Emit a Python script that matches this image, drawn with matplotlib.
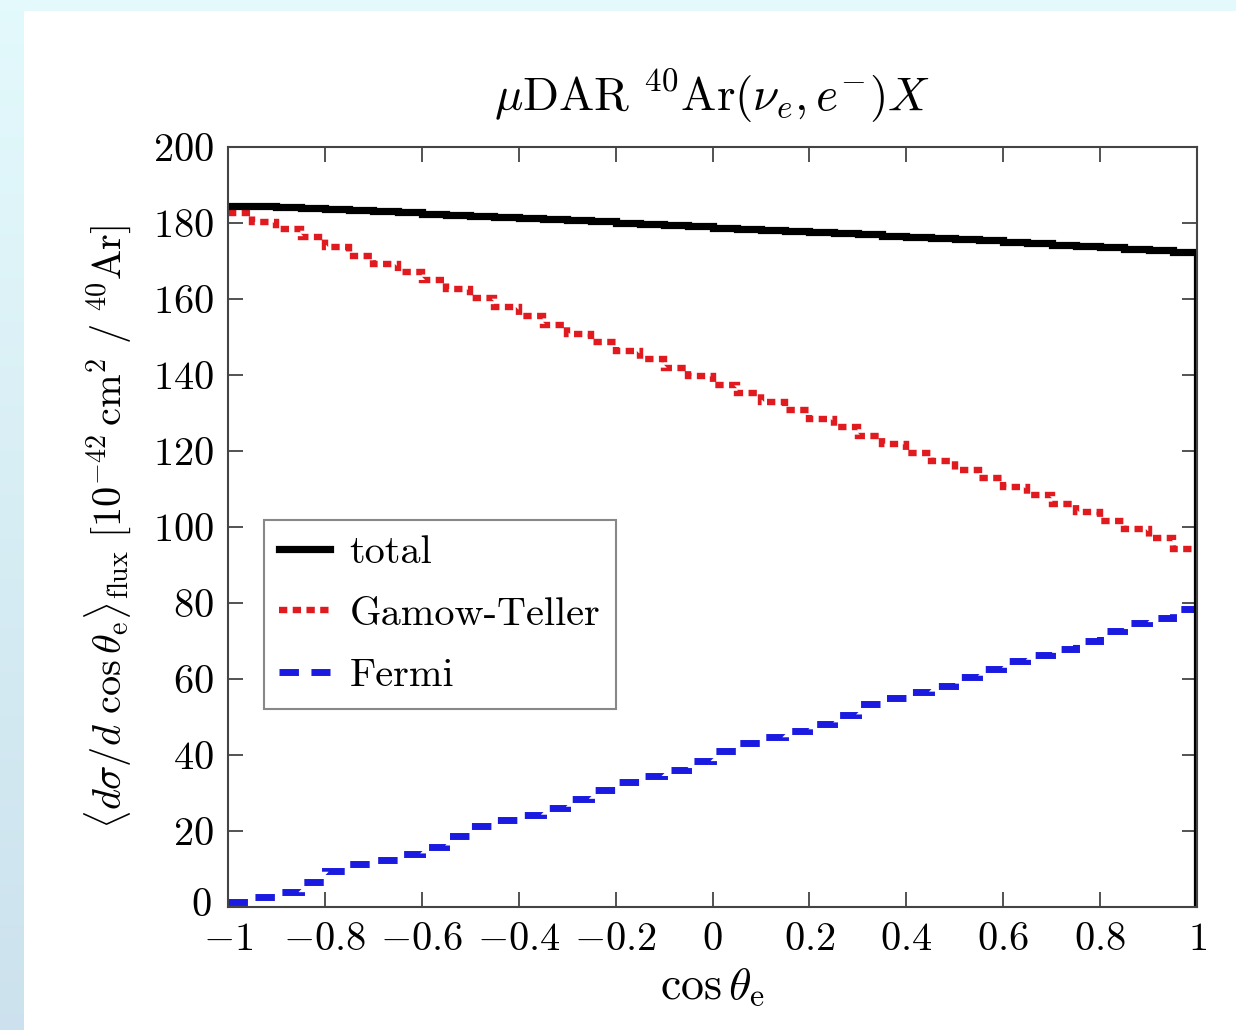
import numpy as np
import matplotlib
matplotlib.use("Agg")
import matplotlib.pyplot as plt
import matplotlib.transforms as mtransforms
from matplotlib.patches import Rectangle

plt.rcParams['font.family'] = 'serif'
plt.rcParams['font.serif'] = ['cmr10']
plt.rcParams['mathtext.fontset'] = 'cm'
plt.rcParams['axes.formatter.use_mathtext'] = True

# binned cross sections, 40 bins in cos(theta_e) from -1 to 1
bin_edges = np.linspace(-1, 1, 41)

total = [184.6, 184.5, 184.3, 184.0, 183.7, 183.4, 183.1, 182.8, 182.5, 182.2,
         181.9, 181.6, 181.3, 181.0, 180.7, 180.4, 180.1, 179.8, 179.5, 179.1,
         178.8, 178.5, 178.2, 177.9, 177.6, 177.3, 177.0, 176.7, 176.4, 176.1,
         175.7, 175.4, 175.0, 174.7, 174.3, 174.0, 173.6, 173.2, 172.8, 172.4]

gamow_teller = [182.6, 180.2, 178.3, 176.2, 173.8, 171.4, 169.2, 167.1, 165.0, 162.6,
                160.3, 158.0, 155.6, 153.2, 150.9, 148.7, 146.4, 144.2, 141.9, 139.7,
                137.4, 135.3, 133.0, 130.8, 128.5, 126.3, 124.0, 121.8, 119.6, 117.3,
                115.0, 112.9, 110.6, 108.4, 106.1, 103.9, 101.7, 99.4, 97.0, 94.3]

fermi = [1.2, 2.6, 3.9, 6.5, 9.5, 11.2, 12.5, 14.0, 15.8, 18.8,
         21.2, 22.8, 24.3, 26.0, 28.3, 30.8, 32.9, 34.4, 36.0, 38.5,
         41.0, 43.2, 44.7, 46.2, 48.2, 50.6, 53.3, 55.0, 56.7, 58.2,
         60.4, 62.6, 64.8, 66.3, 68.0, 70.0, 72.6, 74.7, 76.0, 78.3]

xticks = [-1, -0.8, -0.6, -0.4, -0.2, 0, 0.2, 0.4, 0.6, 0.8, 1]
xtick_labels = [r'$-1$', r'$-0.8$', r'$-0.6$', r'$-0.4$', r'$-0.2$', r'$0$',
                r'$0.2$', r'$0.4$', r'$0.6$', r'$0.8$', r'$1$']
yticks = [0, 20, 40, 60, 80, 100, 120, 140, 160, 180, 200]
ytick_labels = [r'$%d$' % v for v in yticks]

W, H = 1236, 1030
fig = plt.figure(figsize=(W / 100, H / 100), dpi=100)
fig.patch.set_facecolor('#e3f9fb')

# slide background: cyan strip on top, gradient on the left, white panel
bg = fig.add_axes([0, 0, 1, 1], zorder=-10)
bg.set_xlim(0, W)
bg.set_ylim(0, H)
bg.axis('off')
grad = np.linspace(0, 1, 256).reshape(-1, 1)
top_c = np.array([0.89, 0.978, 0.988])
bot_c = np.array([0.80, 0.885, 0.93])
img = top_c * (1 - grad[..., None]) + bot_c * grad[..., None]
img = img.reshape(256, 1, 3)
bg.imshow(img, extent=[0, 24, 0, H], aspect='auto', origin='upper')
bg.add_patch(Rectangle((0, H - 11), W, 11, color='#e3f9fb', lw=0))
bg.add_patch(Rectangle((24, 0), W - 24, H - 11, color='white', lw=0))

ax = fig.add_axes([228 / W, 1 - 907 / H, (1197 - 228) / W, (907 - 147) / H])
ax.set_facecolor('white')

fs = 29
red = '#e01a1e'
blue = '#1a1ae0'

x_step = list(bin_edges)
y_step = total + [total[-1]]
ax.step(x_step, y_step, where='post', color='black', lw=5.2, label='total',
        solid_joinstyle='miter')
ax.vlines(bin_edges[-1], 0, total[-1], color='black', lw=5.2)

ax.stairs(gamow_teller, bin_edges, baseline=None, color=red, lw=4.6,
          linestyle=(0, (1.3, 0.85)), label='Gamow-Teller')
ax.stairs(fermi, bin_edges, baseline=None, color=blue, lw=5.0,
          linestyle=(0, (2.8, 1.8)), label='Fermi')

ax.set_xlim(-1, 1)
ax.set_ylim(0, 200)
ax.set_xticks(xticks, xtick_labels)
ax.set_yticks(yticks, ytick_labels)
ax.tick_params(direction='in', length=11, width=1.3, color='#444444',
               labelsize=fs, top=True, right=True, pad=10)
ax.tick_params(axis='x', pad=11)
for sp in ax.spines.values():
    sp.set_color('#444444')
    sp.set_linewidth(1.5)

# lift the "0" on the y axis a little so it clears the "-1" below it
zero_lbl = ax.get_yticklabels()[0]
zero_lbl.set_transform(zero_lbl.get_transform() +
                       mtransforms.ScaledTranslation(-2 / 100, 5 / 100,
                                                     fig.dpi_scale_trans))

ax.set_title(r'$\mu\mathrm{DAR}\ {}^{40}\mathrm{Ar}(\nu_e, e^{-})X$',
             fontsize=34, pad=26)
ax.set_xlabel(r'$\cos\theta_{\rm e}$', fontsize=33, labelpad=6)
ax.set_ylabel(r'$\langle d\sigma/d\ \cos\theta_{\rm e}\rangle_{\rm flux}\ '
              r'[10^{-42}\,{\rm cm}^2\ /\ {}^{40}{\rm Ar}]$',
              fontsize=fs, labelpad=14)

leg = ax.legend(loc='lower left', bbox_to_anchor=(0.037, 0.2605),
                borderaxespad=0, fontsize=29, handlelength=1.25,
                handletextpad=0.5, labelspacing=0.62, borderpad=0.38,
                fancybox=False, framealpha=1, edgecolor='#888888')
leg.get_frame().set_linewidth(1.5)

fig.savefig('out.png', dpi=100)
